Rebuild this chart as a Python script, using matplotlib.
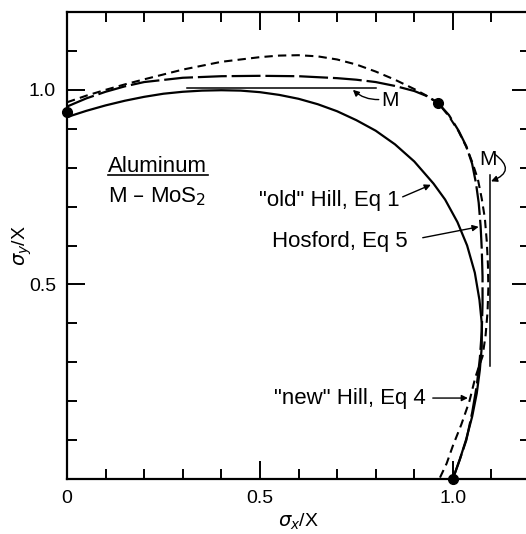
import matplotlib.pyplot as plt

plt.rcParams['font.family'] = ['Liberation Sans', 'DejaVu Sans']
plt.rcParams['mathtext.fontset'] = 'dejavusans'

# "old" Hill, Eq 1 (solid)
old_x = [0.0, 0.05, 0.1, 0.15, 0.2, 0.25, 0.3, 0.35, 0.4, 0.45, 0.5, 0.55, 0.6, 0.65, 0.7, 0.75, 0.8, 0.85, 0.9, 0.95,
         0.98, 1.012, 1.037, 1.057, 1.069, 1.075, 1.075, 1.07, 1.062, 1.05, 1.034, 1.018, 1.0]
old_y = [0.93, 0.946, 0.96, 0.972, 0.982, 0.99, 0.995, 0.998, 0.999, 0.998, 0.994, 0.987, 0.977, 0.963, 0.945, 0.922,
         0.895, 0.86, 0.816, 0.759, 0.718, 0.66, 0.6, 0.53, 0.46, 0.4, 0.34, 0.28, 0.22, 0.16, 0.1, 0.05, 0.0]

# Hosford, Eq 5 (long dash)
hos_x = [0.0, 0.05, 0.1, 0.15, 0.2, 0.3, 0.4, 0.5, 0.6, 0.7, 0.75, 0.8, 0.85, 0.9, 0.93, 0.961, 0.99, 1.015, 1.035,
         1.05, 1.06, 1.067, 1.072, 1.075, 1.077, 1.077, 1.075, 1.07, 1.062, 1.05, 1.035, 1.018, 1.0]
hos_y = [0.957, 0.978, 0.995, 1.009, 1.02, 1.031, 1.035, 1.036, 1.035, 1.03, 1.026, 1.02, 1.01, 0.997, 0.985, 0.967,
         0.935, 0.895, 0.855, 0.81, 0.76, 0.71, 0.65, 0.59, 0.52, 0.45, 0.38, 0.31, 0.24, 0.17, 0.1, 0.05, 0.0]

# "new" Hill, Eq 4 (short dash)
new_x = [0.0, 0.05, 0.1, 0.15, 0.2, 0.3, 0.4, 0.5, 0.55, 0.6, 0.65, 0.7, 0.75, 0.8, 0.85, 0.9, 0.93, 0.961, 0.99,
         1.015, 1.035, 1.05, 1.065, 1.075, 1.083, 1.088, 1.091, 1.092, 1.09, 1.085, 1.077, 1.068, 1.058, 1.043,
         1.022, 1.0, 0.984, 0.965]
new_y = [0.968, 0.985, 1.0, 1.014, 1.027, 1.052, 1.072, 1.084, 1.088, 1.089, 1.086, 1.078, 1.065, 1.047, 1.026, 1.002,
         0.986, 0.967, 0.932, 0.893, 0.853, 0.815, 0.77, 0.72, 0.67, 0.61, 0.55, 0.49, 0.43, 0.37, 0.315, 0.29, 0.26,
         0.2, 0.14, 0.085, 0.04, 0.0]

# measured points (M)
dots_x = [0.0, 0.961, 1.0]
dots_y = [0.943, 0.967, 0.0]
m_horiz_x = [0.31, 0.80]
m_horiz_y = [1.005, 1.005]
m_vert_x = [1.096, 1.096]
m_vert_y = [0.29, 0.78]

fig = plt.figure(figsize=(5.26, 5.34), dpi=100)
ax = fig.add_axes([67 / 526, 55 / 534, 463 / 526, 467 / 534])

ax.plot(old_x, old_y, color='black', lw=1.6)
ax.plot(hos_x, hos_y, color='black', lw=1.6, linestyle=(0, (13, 2.2)))
ax.plot(new_x, new_y, color='black', lw=1.5, linestyle=(0, (4, 2.5)))
ax.plot(m_horiz_x, m_horiz_y, color='black', lw=1.1)
ax.plot(m_vert_x, m_vert_y, color='black', lw=1.1)
ax.plot(dots_x, dots_y, 'o', color='black', markersize=7, clip_on=False, zorder=5)

ax.set_xlim(0, 1.2)
ax.set_ylim(0, 1.2)
ax.set_xticks([0, 0.5, 1.0])
ax.set_xticklabels(['0', '0.5', '1.0'])
ax.set_xticks([0.1, 0.2, 0.3, 0.4, 0.6, 0.7, 0.8, 0.9, 1.1], minor=True)
ax.set_yticks([0.5, 1.0])
ax.set_yticklabels(['0.5', '1.0'])
ax.set_yticks([0.1, 0.2, 0.3, 0.4, 0.6, 0.7, 0.8, 0.9, 1.1], minor=True)
ax.tick_params(which='both', direction='in', top=True, right=True, width=1.4, labelsize=14, pad=8)
ax.tick_params(which='major', length=13)
ax.tick_params(which='minor', length=7)
for s in ax.spines.values():
    s.set_linewidth(1.6)

ax.set_xlabel(r'$\sigma_x$/X', fontsize=14)
ax.xaxis.set_label_coords(0.5, -0.07)
ax.set_ylabel(r'$\sigma_y$/X', fontsize=14)
ax.yaxis.set_label_coords(-0.072, 0.5)

ax.text(0.106, 0.789, 'Aluminum', fontsize=16)
ax.plot([0.106, 0.365], [0.781, 0.781], color='black', lw=1.2)
ax.text(0.106, 0.712, 'M – MoS$_2$', fontsize=16)

ax.text(0.863, 0.702, '"old" Hill, Eq 1', fontsize=16, ha='right')
ax.text(0.883, 0.596, 'Hosford, Eq 5', fontsize=16, ha='right')
ax.text(0.930, 0.193, '"new" Hill, Eq 4', fontsize=16, ha='right')

arr = dict(arrowstyle='-|>', color='black', lw=1.0, mutation_scale=9, shrinkA=0, shrinkB=0)
ax.annotate('', xy=(0.943, 0.756), xytext=(0.870, 0.725), arrowprops=arr)
ax.annotate('', xy=(1.067, 0.648), xytext=(0.922, 0.62), arrowprops=arr)
ax.annotate('', xy=(1.039, 0.208), xytext=(0.948, 0.208), arrowprops=arr)

ax.text(0.837, 0.972, 'M', fontsize=15, ha='center', va='center')
ax.annotate('', xy=(0.741, 1.0), xytext=(0.808, 0.975),
            arrowprops=dict(arr, connectionstyle='arc3,rad=-0.2'))
ax.text(1.09, 0.82, 'M', fontsize=15, ha='center', va='center')
ax.annotate('', xy=(1.099, 0.765), xytext=(1.108, 0.835),
            arrowprops=dict(arr, connectionstyle='arc3,rad=-0.9'))

plt.savefig('out.png', dpi=100)
